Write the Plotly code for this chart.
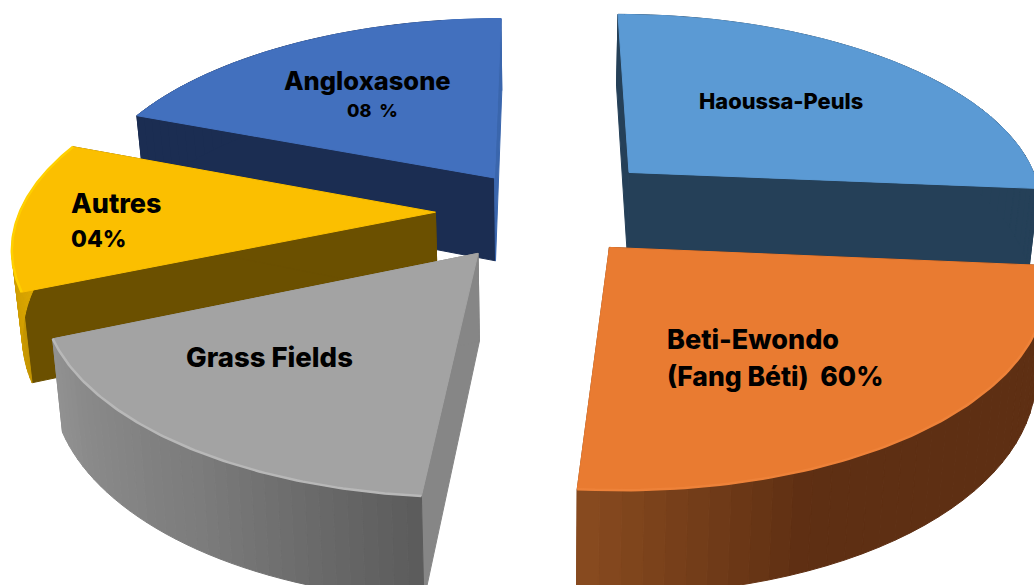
import numpy as np
import plotly.graph_objects as go

# Slice data, clockwise from twelve o'clock
categories = ["Haoussa-Peuls", "Beti-Ewondo", "Grass Fields", "Autres", "Angloxasone"]
sweep_deg = [95, 90, 62, 44, 69]
explode = [0.285, 0.237, 0.26, 0.26, 0.215]
radius = [1.0, 1.0, 0.995, 0.995, 1.0]
back_shift = [0.015, 0.0, 0.0, 0.0, 0.0]

label_lines = [
    ["Haoussa-Peuls"],
    ["Beti-Ewondo", "(Fang Béti)\u00a0\u00a060%"],
    ["Grass Fields"],
    ["Autres", "04%"],
    ["Angloxasone", "08\u00a0\u00a0%"],
]

# Face colours
top_colors = ["#5b9ad4", "#e97b31", "#a3a3a3", "#fbbf00", "#4270be"]
start_face = ["#254058", "#5e2f13", "#868686", "#6b5000", "#1b2d52"]
end_face = ["#254058", "#824a20", "#868686", "#6b5000", "#3a66ad"]
# Outer wall colours from the start of the sweep to its end: (fraction, rgb)
wall_stops = [
    [(0, (37, 64, 88)), (1, (37, 64, 88))],
    [(0, (94, 47, 19)), (0.7, (94, 47, 19)), (1, (138, 76, 32))],
    [(0, (92, 92, 92)), (0.45, (124, 124, 124)), (1, (146, 146, 146))],
    [(0, (196, 148, 0)), (1, (240, 184, 0))],
    [(0, (27, 45, 82)), (0.85, (27, 45, 82)), (0.86, (58, 102, 173)), (1, (58, 102, 173))],
]
rim_colors = [None, "#ee8239", "#b8b8b8", "#ffd000", None]

# Back-to-front painting order
draw_order = [4, 0, 3, 2, 1]

# Perspective projection of the tilted pie
CX, CY = 544, 225
SCALE_X, SCALE_Y, DEPTH = 422, 197.5, 86
PERSPECTIVE, TAPER = 0.155, 0.02
CENTER_BACK = 0.07


def project(x, y, z=0.0):
    s = 1 / (1 + PERSPECTIVE * y)
    return CX + SCALE_X * x * s * (1 - TAPER * z), CY - SCALE_Y * y * s + DEPTH * z * s


def rim(apex, t, r):
    return apex[0] + r * np.sin(t), apex[1] + r * np.cos(t)


def polygon(fig, xs, ys, color, name):
    # The outline is closed explicitly so neighbouring strips leave no gap
    xs, ys = list(xs), list(ys)
    fig.add_trace(go.Scatter(
        x=xs + xs[:1], y=ys + ys[:1], mode="lines", fill="toself", fillcolor=color,
        line=dict(color=color, width=1), hoverinfo="skip", showlegend=False, name=name,
    ))


def wall_color(stops, f):
    fr = [p[0] for p in stops]
    return "rgb(%d,%d,%d)" % tuple(
        np.interp(f, fr, [p[1][c] for p in stops]) for c in range(3)
    )


fig = go.Figure()
edges = np.cumsum([0] + sweep_deg)

for i in draw_order:
    a0, a1 = np.radians(edges[i]), np.radians(edges[i + 1])
    mid = (a0 + a1) / 2
    apex = (explode[i] * np.sin(mid),
            CENTER_BACK + back_shift[i] + explode[i] * np.cos(mid))
    name = categories[i]
    r = radius[i]

    # Radial faces
    for ang, col in ((a0, start_face[i]), (a1, end_face[i])):
        ex, ey = rim(apex, ang, r)
        p = [project(*apex), project(ex, ey), project(ex, ey, 1), project(*apex, 1)]
        polygon(fig, [q[0] for q in p], [q[1] for q in p], col, name)

    # Outer wall, split into strips for the shading
    n = 36
    ts = np.linspace(a0, a1, n + 1)
    for k in range(n):
        seg = np.linspace(ts[k], ts[k + 1], 3)
        rx, ry = rim(apex, seg, r)
        tx, ty = project(rx, ry)
        bx, by = project(rx, ry, 1)
        polygon(fig, np.r_[tx, bx[::-1]], np.r_[ty, by[::-1]],
                wall_color(wall_stops[i], (k + 0.5) / n), name)

    # Top face
    ts = np.linspace(a0, a1, 90)
    rx, ry = rim(apex, ts, r)
    ax, ay = project(*apex)
    tx, ty = project(rx, ry)
    polygon(fig, np.r_[ax, tx], np.r_[ay, ty], top_colors[i], name)

    # Bevel along the outer edge
    if rim_colors[i]:
        fig.add_trace(go.Scatter(
            x=tx, y=ty, mode="lines", line=dict(color=rim_colors[i], width=2.5),
            hoverinfo="skip", showlegend=False, name=name,
        ))

# Label placement and type sizes, one entry per slice
label_x = [[699], [667, 667], [186], [71, 71], [284, 347]]
label_y = [[101], [339, 376], [357], [203, 239], [80, 110]]
label_size = [[21.8], [27, 26.5], [27.5], [27, 23], [25.5, 18]]

for i, lines in enumerate(label_lines):
    for j, text in enumerate(lines):
        fig.add_annotation(
            x=label_x[i][j], y=label_y[i][j],
            xref="x", yref="y", xanchor="left", yanchor="middle", showarrow=False,
            text=text, xshift=-2,
            font=dict(family="Inter", size=label_size[i][j], color="#000000", weight=800),
        )

fig.update_layout(
    width=1034, height=585, margin=dict(l=0, r=0, t=0, b=0),
    paper_bgcolor="#ffffff", plot_bgcolor="#ffffff", showlegend=False,
    xaxis=dict(range=[0, 1034], visible=False, fixedrange=True),
    yaxis=dict(range=[585, 0], visible=False, fixedrange=True),
)
fig.write_html("out.html", config=dict(displayModeBar=False))
